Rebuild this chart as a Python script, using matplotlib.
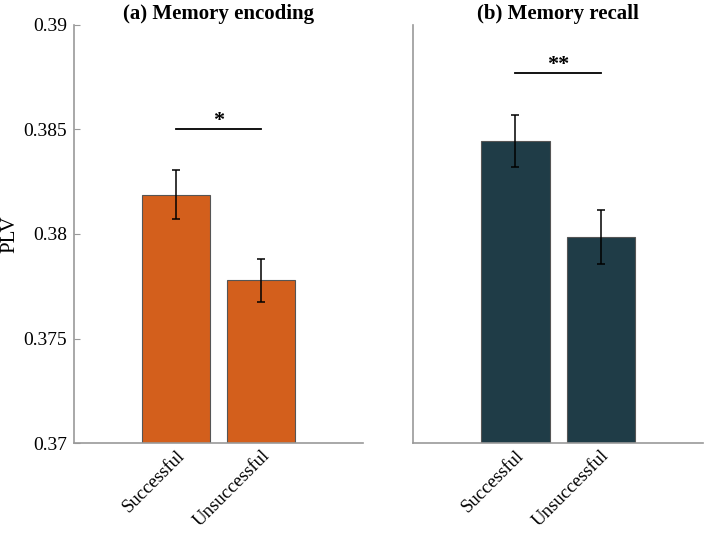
import matplotlib.pyplot as plt
import numpy as np

plt.rcParams['font.family'] = ['Liberation Serif', 'DejaVu Serif']

conditions = ['Successful', 'Unsuccessful']
titles = ['(a) Memory encoding', '(b) Memory recall']
enc_mean = [0.38187, 0.37778]
enc_err = [0.00117, 0.00101]
rec_mean = [0.38446, 0.37985]
rec_err = [0.00124, 0.00129]
sig_level = [0.3850, 0.3877]
sig_text = ['*', '**']
yticks = [0.37, 0.375, 0.38, 0.385, 0.39]
yticklabels = ['0.37', '0.375', '0.38', '0.385', '0.39']
colors = ['#D35F1C', '#1F3C47']

fig = plt.figure(figsize=(7.07, 5.34), dpi=100)
ax1 = fig.add_axes([0.1047, 0.1704, 0.4088, 0.7828])
ax2 = fig.add_axes([0.5842, 0.1704, 0.4102, 0.7828])

x = np.arange(len(conditions))
for i, (ax, means, errs) in enumerate([(ax1, enc_mean, enc_err), (ax2, rec_mean, rec_err)]):
    ax.bar(x, means, width=0.8, color=colors[i], edgecolor='#555555', linewidth=0.8, zorder=2)
    ax.errorbar(x, means, yerr=errs, fmt='none', ecolor='black', elinewidth=1.1,
                capsize=3, capthick=1.1, zorder=3)
    ax.plot([x[0], x[1]], [sig_level[i], sig_level[i]], color='black', lw=1.3)
    ax.text(np.mean(x), sig_level[i] + 0.0004, sig_text[i], ha='center', va='center',
            fontsize=16, fontweight='bold')
    ax.set_xlim(-1.2, 2.2)
    ax.set_ylim(0.37, 0.39)
    ax.set_title(titles[i], fontsize=15, fontweight='bold', pad=4)
    for s in ['top', 'right']:
        ax.spines[s].set_visible(False)
    for s in ['left', 'bottom']:
        ax.spines[s].set_color('#999999')
        ax.spines[s].set_linewidth(1.2)
    ax.set_xticks(x)
    ax.set_xticklabels(conditions, rotation=45, ha='right', rotation_mode='anchor', fontsize=13.5)
    ax.tick_params(axis='x', length=0, pad=3)

ax1.set_yticks(yticks)
ax1.set_yticklabels(yticklabels, fontsize=14)
ax1.tick_params(axis='y', direction='in', length=4, color='#999999', pad=5)
ax1.set_ylabel('PLV', fontsize=15)
ax1.yaxis.set_label_coords(-0.19, 0.5)

ax2.set_yticks([])

fig.savefig('out.png', dpi=100)
